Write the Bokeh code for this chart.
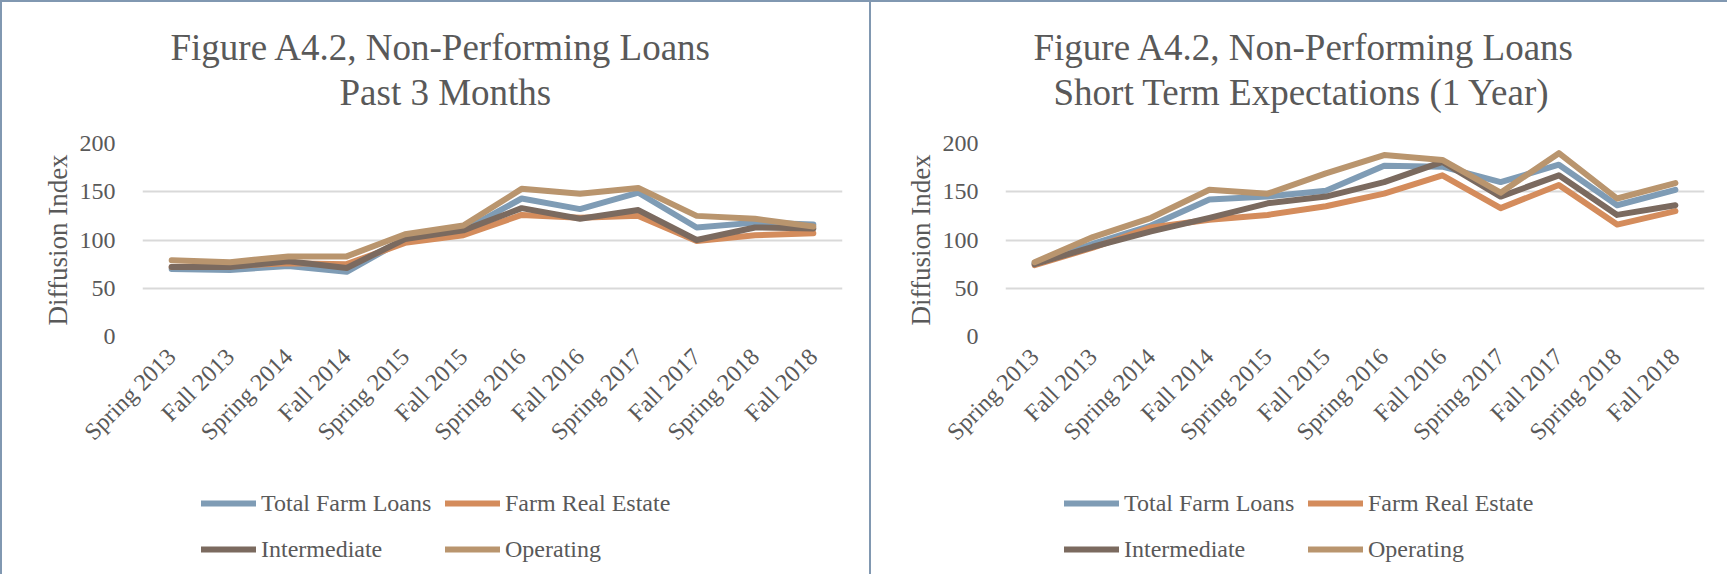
import math
from bokeh.plotting import figure
from bokeh.models import (ColumnDataSource, Legend, LegendItem, Title,
                          FactorRange, Range1d, FixedTicker)
from bokeh.layouts import row, column
from bokeh.embed import file_html
from bokeh.resources import INLINE

categories = ["Spring 2013", "Fall 2013", "Spring 2014", "Fall 2014",
              "Spring 2015", "Fall 2015", "Spring 2016", "Fall 2016",
              "Spring 2017", "Fall 2017", "Spring 2018", "Fall 2018"]

series_names = ["Total Farm Loans", "Farm Real Estate", "Intermediate", "Operating"]
series_colors = ["#7f9cb5", "#d48c5c", "#7b6a5f", "#b9956e"]

# Past 3 Months
total_past = [70, 69, 73, 67, 101, 110, 143, 132, 149, 113, 118, 116]
fre_past = [72, 73, 76, 75, 97, 105, 126, 123, 125, 99, 105, 107]
inter_past = [72, 72, 78, 71, 101, 110, 133, 122, 131, 100, 113, 112]
oper_past = [79, 77, 83, 83, 106, 115, 153, 148, 154, 125, 122, 114]

# Short Term Expectations (1 Year)
total_exp = [76, 96, 115, 142, 145, 151, 177, 176, 160, 178, 136, 152]
fre_exp = [74, 92, 113, 121, 126, 135, 148, 167, 133, 157, 116, 130]
inter_exp = [75, 93, 109, 123, 138, 145, 160, 181, 145, 167, 126, 136]
oper_exp = [77, 103, 123, 152, 148, 169, 188, 183, 149, 190, 143, 159]

y_ticks = [0, 50, 100, 150, 200]

FONT = "Liberation Serif"
TEXT = "#595959"
BORDER = "#8198b1"
GRID = "#d9d9d9"
BL = "2px solid " + BORDER


def title_fig(title1, title2, width, left, right, off1, off2):
    p = figure(x_range=Range1d(0, 1), y_range=Range1d(0, 1),
               x_axis_type=None, y_axis_type=None, width=width, height=118,
               output_backend="svg", toolbar_location=None,
               min_border_left=left, min_border_right=right,
               min_border_top=112, min_border_bottom=4,
               outline_line_color=None,
               styles={"border-left": BL, "border-top": BL})
    p.xgrid.visible = False
    p.ygrid.visible = False
    for txt, off, so in ((title2, off2, 4), (title1, off1, 0)):
        p.add_layout(Title(text=txt, align="left", offset=off, standoff=so,
                           text_font=FONT, text_font_size="37px",
                           text_font_style="normal", text_color=TEXT),
                     "above")
    return p


def chart_fig(series, width, left, right):
    p = figure(x_range=FactorRange(*categories), y_range=Range1d(0, 200),
               width=width, height=356, output_backend="svg",
               toolbar_location=None, min_border_left=left,
               min_border_right=right, min_border_top=25,
               min_border_bottom=138, outline_line_color=None,
               styles={"border-left": BL})
    src = ColumnDataSource(dict(cat=categories, s0=series[0], s1=series[1],
                                s2=series[2], s3=series[3]))
    for i, col in enumerate(series_colors):
        p.line("cat", "s%d" % i, source=src, line_color=col,
               line_width=6, line_join="round", line_cap="round")

    p.xgrid.grid_line_color = None
    p.ygrid.grid_line_color = GRID
    p.ygrid.grid_line_width = 2
    p.yaxis.ticker = FixedTicker(ticks=y_ticks)
    for ax in (p.xaxis[0], p.yaxis[0]):
        ax.axis_line_color = None
        ax.major_tick_line_color = None
        ax.minor_tick_line_color = None
        ax.major_label_text_font = FONT
        ax.major_label_text_font_size = "24px"
        ax.major_label_text_color = TEXT
    p.yaxis.major_label_standoff = 21
    p.yaxis.axis_label = "Diffusion Index"
    p.yaxis.axis_label_text_font = FONT
    p.yaxis.axis_label_text_font_size = "27px"
    p.yaxis.axis_label_text_font_style = "normal"
    p.yaxis.axis_label_text_color = TEXT
    p.yaxis.axis_label_standoff = 4
    p.xaxis.major_label_orientation = math.pi / 4
    p.xaxis.major_label_standoff = 10
    return p


def legend_fig(series, idx, width, left, right, top, bottom):
    # one legend row; proxy lines use the series values, which lie outside
    # this strip's 0..1 range, so only the legend swatches show
    p = figure(x_range=Range1d(0, 1), y_range=Range1d(0, 1),
               x_axis_type=None, y_axis_type=None, width=width, height=50,
               output_backend="svg", toolbar_location=None,
               min_border_left=left, min_border_right=right,
               min_border_top=top, min_border_bottom=bottom,
               outline_line_color=None, styles={"border-left": BL})
    p.xgrid.visible = False
    p.ygrid.visible = False
    items = []
    for i in idx:
        src = ColumnDataSource(dict(x=list(range(len(categories))),
                                    y=series[i]))
        r = p.line("x", "y", source=src, line_color=series_colors[i],
                   line_width=6, line_cap="round")
        items.append(LegendItem(label=series_names[i], renderers=[r]))
    lg = Legend(items=items, location="left", orientation="horizontal",
                glyph_width=55, glyph_height=42, label_height=42,
                label_width=176, spacing=8, label_standoff=5,
                padding=0, margin=59, border_line_alpha=0,
                background_fill_alpha=0, label_text_font=FONT,
                label_text_font_size="24px", label_text_color=TEXT)
    p.add_layout(lg)
    return p


past = [total_past, fre_past, inter_past, oper_past]
exp = [total_exp, fre_exp, inter_exp, oper_exp]

left_col = column(
    title_fig("Figure A4.2, Non-Performing Loans", "Past 3 Months",
              869, 140, 29, 28, 197),
    chart_fig(past, 869, 140, 29),
    legend_fig(past, [0, 1], 869, 140, 29, 8, 0),
    legend_fig(past, [2, 3], 869, 140, 29, 0, 0))
right_col = column(
    title_fig("Figure A4.2, Non-Performing Loans",
              "Short Term Expectations (1 Year)", 858, 134, 25, 28, 48),
    chart_fig(exp, 858, 134, 25),
    legend_fig(exp, [0, 1], 858, 134, 25, 8, 0),
    legend_fig(exp, [2, 3], 858, 134, 25, 0, 0))

layout = row(left_col, right_col)
open("out.html", "w").write(file_html(layout, INLINE))
